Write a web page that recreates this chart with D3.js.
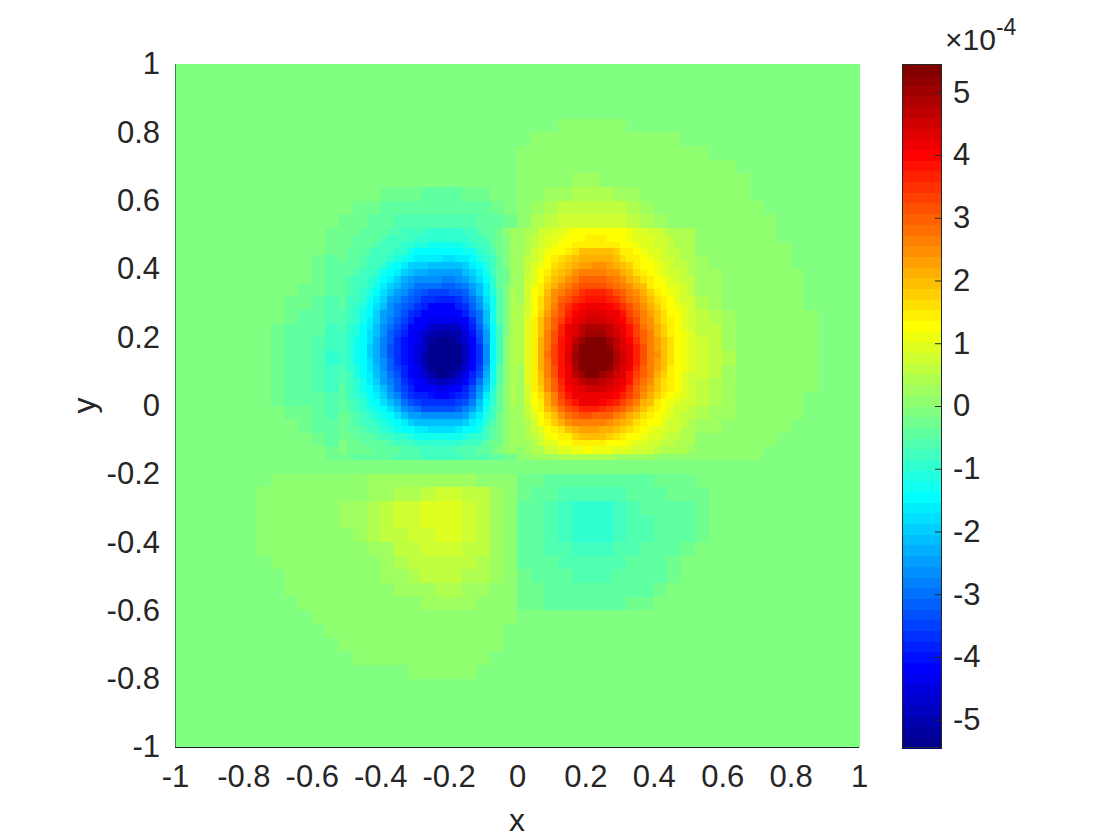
<!DOCTYPE html>
<html><head><meta charset="utf-8">
<script src="https://cdn.jsdelivr.net/npm/d3@7"></script>
<style>html,body{margin:0;background:#fff}svg{display:block}text{font-family:"Liberation Sans",Arial,sans-serif;fill:#262626}</style>
</head><body><svg id="c" width="1120" height="840"></svg>
<script>
const xTicks=[-1,-0.8,-0.6,-0.4,-0.2,0,0.2,0.4,0.6,0.8,1];
const yTicks=[-1,-0.8,-0.6,-0.4,-0.2,0,0.2,0.4,0.6,0.8,1];
const cbTicks=[-5,-4,-3,-2,-1,0,1,2,3,4,5];
const cbLimit=5.45;
const gridSize=50;
const baseline=-1.6; // the coarse field's flat background sits just below zero, unit 1e-5
// coarse field: first non-empty column of each row, from y=1 downward
const rowStart=[0,0,0,0,28,26,25,25,25,15,13,12,11,11,10,10,9,8,8,7,7,7,7,7,7,8,9,10,11,0,7,6,6,6,6,6,7,8,8,9,10,11,12,13,17];
// coarse cell values, unit 1e-5
const rowValues=[
[],[],[],[],
[2,2,2,2,2],
[2,2,2,2,2,2,2,2,2,2,2],
[2,2,2,2,2,2,2,2,2,2,2,2,2,2],
[2,2,2,2,2,2,2,2,2,2,2,2,2,2,2,2],
[2,2,2,2,4,4,3,2,2,2,2,2,2,2,2,2,2],
[-1,-1,-1,-2,-2,-2,-1,-1,0,0,2,3,4,5,6,6,6,5,4,3,3,3,2,2,2,2,2],
[-1,-1,-2,-3,-3,-3,-3,-3,-3,-2,-1,0,3,5,6,7,8,8,8,7,6,4,3,3,2,2,2,2,2,2],
[-1,-1,-2,-3,-4,-4,-5,-5,-4,-4,-3,-2,-1,3,6,8,10,10,10,10,9,7,6,4,3,3,2,2,2,2,2,2],
[-1,-2,-3,-4,-5,-6,-6,-6,-6,-6,-6,-4,-3,-1,4,7,11,13,13,13,13,12,9,7,5,4,3,3,2,2,2,2,2],
[-1,-2,-4,-5,-6,-7,-8,-9,-10,-10,-9,-6,-3,-1,5,9,13,16,17,18,17,16,13,9,7,5,4,3,3,2,2,2,2,2],
[-1,-2,-3,-4,-6,-8,-11,-14,-18,-19,-19,-17,-13,-7,-2,6,12,17,20,22,22,21,20,16,12,9,6,5,4,3,3,2,2,2,2],
[-1,-2,-4,-6,-8,-12,-16,-20,-23,-24,-24,-22,-17,-10,-3,7,15,21,25,27,27,26,24,20,15,11,8,6,4,4,3,3,2,2,2,2],
[-1,-1,-3,-5,-8,-13,-18,-23,-27,-30,-31,-31,-28,-22,-13,-3,7,17,25,30,32,33,31,29,24,19,14,10,7,5,4,3,3,3,2,2,2],
[-1,-1,-3,-4,-6,-10,-16,-22,-28,-33,-36,-38,-38,-34,-26,-14,-3,8,20,29,35,38,38,37,33,28,22,16,13,9,6,5,3,3,3,3,2,2],
[-1,-2,-3,-5,-7,-12,-19,-26,-33,-38,-43,-44,-43,-39,-30,-16,-3,8,22,33,40,43,43,42,39,32,26,19,14,11,7,6,4,3,3,3,2,2,2],
[-1,-2,-2,-3,-6,-9,-14,-22,-30,-37,-43,-48,-49,-47,-43,-34,-18,-3,9,25,37,45,49,49,47,42,36,28,21,16,12,8,7,5,3,3,3,3,2,2],
[-1,-2,-3,-4,-6,-10,-16,-24,-33,-40,-46,-52,-54,-52,-46,-36,-19,-2,10,27,39,48,53,53,50,45,39,30,23,18,13,9,7,5,3,3,3,3,2,2],
[-1,-2,-3,-4,-7,-11,-17,-25,-34,-41,-48,-54,-54,-54,-47,-37,-19,-2,9,27,40,49,54,54,51,46,40,31,24,18,13,10,8,6,3,3,3,3,2,2],
[-1,-2,-3,-4,-6,-10,-16,-24,-32,-40,-46,-52,-54,-52,-45,-35,-17,-1,9,26,39,48,53,52,50,45,39,30,23,17,12,9,7,5,3,3,3,3,2,2],
[-1,-2,-2,-4,-6,-9,-14,-21,-29,-36,-42,-46,-48,-46,-42,-32,-14,-1,6,22,36,44,47,46,44,40,34,27,21,15,11,8,6,5,3,3,3,2,2,2],
[-1,-2,-2,-3,-5,-8,-12,-18,-25,-32,-37,-41,-42,-41,-37,-28,-12,0,4,19,30,38,41,41,38,35,29,24,18,14,9,7,6,4,3,3,2,2,2],
[-1,-1,-2,-4,-6,-10,-14,-20,-26,-30,-33,-34,-33,-30,-23,-10,0,3,15,25,31,34,34,32,29,24,19,14,10,7,6,5,4,3,3,2,2,2],
[-1,-2,-3,-4,-7,-11,-14,-19,-23,-25,-26,-25,-23,-18,-8,0,3,11,18,23,25,25,23,21,17,14,10,7,5,4,4,3,3,2,2,2],
[-1,-2,-3,-5,-6,-9,-11,-13,-15,-15,-15,-13,-11,-5,0,3,7,12,14,15,15,14,12,10,8,6,4,4,3,3,2,2,2,2],
[-1,-1,-2,-3,-3,-4,-5,-6,-6,-6,-5,-4,-2,-1,2,4,5,6,6,6,6,5,5,4,3,3,3,2,2,2,2,2],
[],
[2,2,2,2,2,2,2,4,4,4,4,5,5,5,4,3,2,2,-1,-1,-2,-2,-3,-3,-3,-3,-2,-2,-1,-1,-1],
[2,2,2,2,2,2,3,3,4,4,6,6,8,9,9,8,7,5,3,-1,-2,-3,-4,-5,-5,-5,-4,-3,-3,-2,-1,-1,-1],
[2,2,2,2,2,2,4,4,6,7,9,9,11,11,11,9,7,5,3,-2,-3,-4,-6,-7,-7,-7,-6,-4,-3,-2,-2,-2,-1],
[2,2,2,2,2,3,4,5,6,7,9,10,11,11,11,9,7,5,3,-2,-3,-5,-6,-7,-7,-7,-6,-5,-4,-3,-2,-2,-1],
[2,2,2,2,2,2,3,4,6,7,8,9,10,11,11,9,7,5,3,-2,-3,-5,-6,-7,-7,-7,-6,-5,-4,-3,-2,-2,-1],
[2,2,2,2,2,2,2,3,4,5,7,8,9,10,10,8,7,5,2,-2,-3,-4,-5,-6,-6,-6,-5,-4,-3,-2,-2,-1],
[2,2,2,2,2,2,2,3,4,6,7,7,8,8,7,6,4,2,-2,-2,-3,-4,-5,-5,-5,-4,-3,-3,-2,-1],
[2,2,2,2,2,2,2,4,4,6,7,7,7,6,6,4,2,-1,-2,-3,-3,-4,-4,-4,-3,-3,-2,-2,-1],
[2,2,2,2,2,2,2,2,4,4,5,6,6,5,4,3,2,-1,-1,-2,-2,-3,-3,-3,-2,-2,-2,-1],
[2,2,2,2,2,2,2,2,3,4,5,5,4,3,2,2,-1,-1,-2,-2,-2,-2,-2,-2,-1,-1],
[2,2,2,2,2,2,2,2,2,2,2,2,2,2,2],
[2,2,2,2,2,2,2,2,2,2,2,2,2],
[2,2,2,2,2,2,2,2,2,2,2,2],
[2,2,2,2,2,2,2,2,2,2],
[2,2,2,2,2]
];
// fine cells over the two main lobes (half the coarse step), unit 1e-5
const fineStartCol=24, fineStartRow=24, fineGrid=100;
const fineNegativeLobe=[
[-2,-3,-3,-4,-4,-5,-5,-6,-6,-7,-7,-8,-8,-9,-9,-9,-9,-9,-8,-7,-6,-5,-4,-2,0,2],
[-2,-3,-4,-4,-5,-5,-6,-7,-7,-8,-8,-9,-9,-10,-10,-10,-10,-10,-10,-8,-7,-6,-4,-3,-1,2],
[-3,-3,-4,-5,-5,-6,-7,-7,-8,-9,-10,-11,-11,-12,-12,-12,-12,-12,-11,-10,-8,-7,-5,-3,-1,2],
[-3,-4,-4,-5,-6,-7,-7,-8,-9,-10,-12,-14,-14,-15,-15,-15,-15,-15,-13,-12,-9,-8,-6,-3,-1,2],
[-3,-4,-5,-6,-7,-7,-8,-9,-11,-13,-15,-16,-17,-17,-17,-18,-18,-17,-16,-14,-11,-9,-7,-4,-1,3],
[-4,-5,-5,-6,-7,-8,-9,-12,-14,-17,-19,-20,-20,-21,-21,-21,-21,-21,-19,-16,-14,-11,-7,-4,-1,3],
[-4,-5,-6,-7,-8,-9,-12,-14,-17,-20,-22,-23,-23,-24,-24,-24,-24,-24,-22,-19,-16,-13,-8,-5,-2,3],
[-4,-6,-7,-8,-9,-11,-14,-17,-20,-23,-25,-26,-27,-27,-27,-28,-28,-27,-25,-22,-18,-14,-9,-5,-2,3],
[-5,-6,-7,-8,-10,-12,-16,-19,-22,-25,-27,-29,-29,-30,-30,-31,-31,-29,-28,-25,-21,-16,-10,-5,-1,3],
[-5,-6,-8,-9,-11,-14,-18,-22,-25,-27,-29,-31,-34,-35,-35,-35,-34,-33,-31,-27,-22,-17,-11,-6,-1,4],
[-5,-7,-8,-10,-12,-16,-20,-24,-27,-29,-32,-34,-36,-37,-38,-38,-38,-36,-33,-29,-25,-18,-12,-6,-1,4],
[-5,-7,-9,-11,-14,-18,-22,-26,-29,-31,-34,-37,-39,-41,-41,-41,-41,-39,-36,-32,-27,-19,-12,-6,-1,4],
[-6,-8,-10,-12,-15,-19,-24,-27,-30,-33,-36,-39,-41,-42,-42,-42,-42,-41,-39,-34,-29,-21,-13,-6,-1,4],
[-6,-8,-10,-13,-16,-20,-25,-28,-32,-35,-39,-41,-42,-43,-44,-44,-44,-43,-41,-37,-30,-22,-13,-6,-1,4],
[-6,-9,-11,-14,-17,-21,-26,-29,-33,-37,-41,-42,-44,-47,-49,-49,-49,-47,-43,-39,-32,-23,-14,-7,-1,4],
[-7,-9,-11,-14,-18,-22,-27,-31,-35,-39,-41,-43,-47,-50,-51,-52,-51,-50,-45,-40,-33,-24,-14,-7,-1,5],
[-7,-9,-12,-15,-18,-23,-28,-32,-36,-40,-42,-44,-48,-52,-54,-55,-54,-51,-47,-41,-35,-25,-14,-7,0,5],
[-7,-9,-12,-15,-19,-23,-28,-33,-37,-40,-42,-45,-49,-53,-55,-56,-55,-53,-48,-42,-36,-26,-15,-7,0,5],
[-7,-9,-12,-15,-19,-23,-28,-33,-37,-40,-42,-45,-50,-55,-56,-56,-56,-54,-48,-42,-36,-26,-15,-7,0,5],
[-7,-9,-12,-15,-18,-23,-27,-32,-36,-40,-42,-45,-50,-55,-56,-56,-56,-54,-48,-42,-36,-26,-15,-7,0,5],
[-6,-9,-11,-14,-18,-22,-27,-31,-35,-39,-41,-44,-49,-54,-56,-56,-55,-52,-47,-41,-35,-25,-14,-6,0,5],
[-6,-8,-11,-14,-17,-21,-25,-30,-34,-38,-41,-43,-47,-51,-53,-53,-52,-49,-44,-39,-33,-23,-13,-6,0,5],
[-6,-8,-10,-13,-16,-20,-24,-28,-32,-37,-40,-42,-44,-47,-48,-48,-47,-45,-42,-37,-30,-21,-12,-6,0,5],
[-5,-7,-10,-12,-15,-18,-22,-26,-31,-35,-39,-41,-42,-42,-43,-43,-42,-41,-39,-34,-27,-19,-11,-5,0,4],
[-5,-7,-9,-11,-14,-17,-20,-24,-28,-34,-37,-38,-39,-40,-41,-41,-40,-38,-36,-31,-25,-17,-10,-5,0,4],
[-4,-6,-8,-10,-12,-15,-18,-21,-25,-29,-33,-35,-37,-37,-37,-37,-36,-35,-33,-28,-22,-15,-9,-4,0,4],
[-4,-6,-7,-9,-11,-13,-15,-18,-22,-26,-28,-30,-33,-33,-34,-34,-33,-31,-28,-24,-19,-13,-8,-4,0,3],
[-3,-5,-6,-8,-9,-11,-13,-15,-18,-22,-24,-25,-26,-26,-26,-27,-26,-26,-24,-20,-16,-11,-7,-3,0,3],
[-3,-4,-6,-7,-8,-9,-11,-13,-15,-17,-19,-21,-22,-22,-22,-22,-22,-22,-20,-17,-14,-10,-6,-3,0,3],
[-2,-4,-5,-6,-7,-8,-9,-11,-12,-14,-15,-16,-17,-18,-18,-18,-18,-17,-15,-14,-12,-8,-5,-2,0,3],
[-2,-3,-4,-5,-5,-6,-7,-8,-9,-10,-11,-12,-13,-13,-13,-13,-13,-12,-11,-10,-9,-7,-4,-2,0,2],
[-1,-2,-3,-4,-4,-5,-5,-6,-7,-7,-8,-9,-9,-10,-10,-10,-10,-9,-8,-8,-7,-5,-3,-2,0,2],
[-1,-2,-2,-3,-3,-4,-4,-5,-5,-6,-6,-6,-7,-7,-7,-7,-7,-6,-6,-6,-5,-4,-3,-1,0,2]
];
const finePositiveLobe=[
[2,4,5,7,8,9,10,11,12,12,13,13,13,12,12,12,11,10,9,8,7,6,5,5,4,4],
[2,4,6,8,9,10,11,12,13,13,14,14,14,13,13,12,11,10,10,9,8,7,6,5,4,4],
[2,5,6,8,10,11,12,13,14,15,15,15,15,15,14,13,12,11,10,9,8,7,6,5,5,4],
[2,5,7,9,11,12,13,14,17,19,20,20,20,20,18,15,14,13,11,10,9,7,6,6,5,4],
[3,6,8,10,12,14,16,18,19,21,21,22,22,21,20,17,15,14,12,11,10,8,7,6,5,5],
[3,6,9,11,13,16,18,20,22,23,23,24,24,23,22,20,18,15,13,12,11,9,8,6,6,5],
[3,6,9,12,14,18,20,22,24,26,26,26,26,25,24,22,20,17,14,13,11,10,8,7,6,5],
[3,7,10,13,16,20,22,25,27,29,30,30,30,28,26,25,22,20,16,14,12,11,9,8,6,6],
[3,7,11,14,18,22,24,27,29,31,32,32,32,30,28,27,25,22,19,15,13,12,10,9,7,6],
[3,7,12,15,19,24,27,30,32,35,36,36,36,35,32,29,27,24,21,18,14,13,11,9,8,6],
[3,8,12,16,21,25,29,32,35,37,38,38,38,37,35,32,28,26,23,19,16,14,12,10,8,7],
[4,8,12,17,22,27,31,35,38,40,41,41,41,40,38,35,31,28,25,21,18,15,13,11,9,7],
[4,8,13,18,23,28,32,37,40,42,43,43,43,42,41,38,33,30,26,23,19,16,13,12,9,8],
[4,9,14,19,25,29,34,39,42,44,45,45,45,44,42,40,35,31,27,24,20,17,14,12,10,8],
[4,9,14,20,25,30,36,41,43,46,48,49,48,46,44,41,38,33,28,25,21,18,15,13,10,8],
[4,10,15,20,26,31,37,41,44,47,50,50,50,47,45,42,39,34,29,26,22,18,15,13,11,9],
[4,10,15,21,27,32,38,42,47,51,54,54,53,50,46,43,40,35,30,26,23,19,16,13,11,9],
[4,10,15,21,27,33,39,42,49,54,56,56,55,52,47,44,41,36,31,27,23,20,16,13,11,9],
[4,10,15,21,28,33,39,43,50,55,56,56,56,53,48,45,41,37,31,27,24,20,16,13,11,9],
[4,10,15,21,27,33,39,43,50,55,56,56,56,53,48,45,41,36,31,27,23,20,16,13,11,9],
[3,9,15,21,27,32,39,42,49,54,56,56,55,52,47,44,41,35,30,26,23,19,15,13,11,9],
[3,9,14,20,26,31,38,42,47,50,53,53,51,48,45,43,39,34,29,26,22,18,15,13,10,8],
[3,9,14,19,25,30,36,41,43,47,48,48,47,45,44,41,38,32,28,24,20,17,14,12,10,8],
[3,8,14,18,24,29,35,40,42,44,45,45,45,43,42,40,35,30,26,23,19,16,14,12,9,8],
[2,7,13,17,22,27,33,38,41,42,42,42,42,41,40,37,33,29,25,21,18,15,13,11,9,7],
[2,7,12,15,21,26,31,35,39,41,41,41,40,38,36,34,30,26,22,19,15,13,11,9,8,7],
[2,6,11,14,19,23,28,32,34,36,37,36,35,33,31,29,26,23,19,16,14,12,10,8,7,6],
[2,6,9,13,17,20,24,28,30,31,31,30,30,29,27,24,22,19,16,14,13,11,9,8,6,6],
[2,5,8,12,15,18,21,24,26,27,27,27,26,25,23,21,19,17,14,13,12,10,8,7,6,5],
[2,4,7,10,13,15,17,20,22,23,23,23,22,21,20,18,16,14,13,11,10,9,7,7,5,5],
[2,4,6,8,11,13,14,15,18,19,20,20,20,18,16,14,13,12,11,10,9,8,6,6,5,4],
[2,3,5,7,9,10,12,13,14,14,15,15,14,13,13,12,11,10,9,8,7,6,6,5,4,4],
[1,3,4,5,7,8,9,10,11,11,12,11,11,11,10,10,9,8,7,7,6,5,5,4,4,3]
];

const svg=d3.select("#c");
const L=175,R=859,T=64,B=747,CL=902,CR=942,CB=748,FS=31;
const x=d3.scaleLinear().domain([-1,1]).range([L,R]);
const y=d3.scaleLinear().domain([-1,1]).range([B,T]);
const cbY=d3.scaleLinear().domain([-cbLimit,cbLimit]).range([CB,T]);
// MATLAB jet(64)
const jetColors=d3.range(1,65).map(i=>{
  const f=t=>Math.round(255*Math.max(0,Math.min(1,t)));
  return d3.rgb(f(Math.min((i-24)/16,(72-i)/16)),f(Math.min((i-8)/16,(56-i)/16)),f(Math.min((i+8)/16,(40-i)/16))).formatHex();
});
const color=d3.scaleQuantize().domain([-cbLimit*1e-4,cbLimit*1e-4]).range(jetColors);

const cells=[];
for(let r=0;r<gridSize;r++)for(let c=0;c<gridSize;c++){
  const vals=rowValues[r]||[], s=rowStart[r]||0, k=c-s;
  cells.push({r,c,n:gridSize,v:((k>=0&&k<vals.length?vals[k]:0)+baseline)*1e-5});
}
fineNegativeLobe.forEach((row,i)=>row.concat(finePositiveLobe[i]).forEach((v,j)=>{
  cells.push({r:fineStartRow+i,c:fineStartCol+j,n:fineGrid,v:v*1e-5});
}));
svg.append("g").attr("shape-rendering","crispEdges").selectAll("rect").data(cells).join("rect")
 .attr("x",d=>x(-1+d.c*2/d.n)).attr("y",d=>y(1-d.r*2/d.n))
 .attr("width",d=>x(-1+(d.c+1)*2/d.n)-x(-1+d.c*2/d.n)+0.5)
 .attr("height",d=>y(1-(d.r+1)*2/d.n)-y(1-d.r*2/d.n)+0.5)
 .attr("fill",d=>color(d.v));

const fmt=v=>String(v);
function style(g){
  g.selectAll(".domain").remove();
  g.selectAll("line").attr("stroke","#262626").attr("stroke-width",1);
  g.selectAll("text").attr("font-size",FS).attr("fill","#262626").attr("font-family",'"Liberation Sans",Arial,sans-serif');
}
svg.append("g").attr("transform",`translate(0,${B})`)
 .call(d3.axisBottom(x).tickValues(xTicks).tickFormat(fmt).tickSize(0).tickPadding(18)).call(style);
svg.append("g").attr("transform",`translate(${L},0)`)
 .call(d3.axisLeft(y).tickValues(yTicks).tickFormat(fmt).tickSize(0).tickPadding(15)).call(style);
svg.append("line").attr("x1",L).attr("x2",R).attr("y1",B+0.5).attr("y2",B+0.5).attr("stroke","#262626");
svg.append("line").attr("x1",L+0.5).attr("x2",L+0.5).attr("y1",T).attr("y2",B).attr("stroke","#262626").attr("stroke-opacity",0.6);
svg.append("text").attr("x",(L+R)/2).attr("y",831).attr("text-anchor","middle").attr("font-size",32).text("x");
svg.append("text").attr("transform",`translate(95,${(T+B)/2}) rotate(-90)`).attr("text-anchor","middle").attr("font-size",32).text("y");

// colorbar
const binH=(CB-T)/jetColors.length;
svg.append("g").attr("shape-rendering","crispEdges").selectAll("rect").data(jetColors).join("rect")
 .attr("x",CL).attr("width",CR-CL)
 .attr("y",(d,i)=>cbY(-cbLimit+(i+1)*2*cbLimit/jetColors.length))
 .attr("height",binH+0.5)
 .attr("fill",d=>d);
svg.append("rect").attr("x",CL+0.5).attr("y",T+0.5).attr("width",CR-CL-1).attr("height",CB-T-1)
 .attr("fill","none").attr("stroke","#262626");
svg.append("g").attr("transform",`translate(${CR},0)`)
 .call(d3.axisRight(cbY).tickValues(cbTicks).tickFormat(fmt).tickSizeInner(-7).tickPadding(11)).call(style);
const m=svg.append("text").attr("x",945).attr("y",50).attr("font-size",30);
m.append("tspan").text("×10");
m.append("tspan").attr("font-size",23).attr("dy",-15).text("-4");
</script></body></html>
